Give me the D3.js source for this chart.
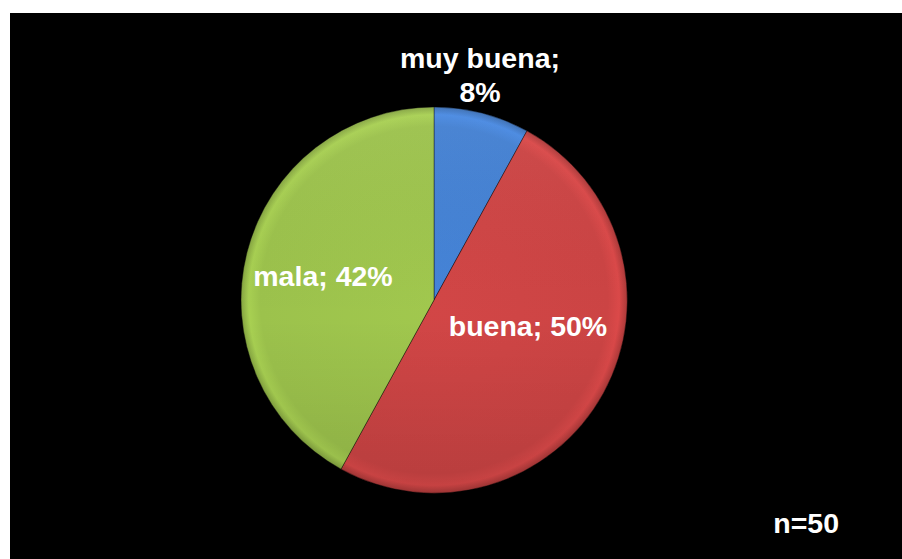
<!DOCTYPE html>
<html>
<head>
<meta charset="utf-8">
<script src="https://cdn.jsdelivr.net/npm/d3@7"></script>
<style>
  html, body { margin: 0; padding: 0; background: #ffffff; }
  svg { display: block; }
  text { font-family: "Liberation Sans", Arial, sans-serif; font-weight: bold; fill: #ffffff; }
</style>
</head>
<body>
<script>
// Opinion categories, in drawing order (clockwise from 12 o'clock)
const categories = ["muy buena", "buena", "mala"];
const percents = [8, 50, 42];
const colors = ["#4380d2", "#cc4444", "#9cc24c"];
const sampleLabel = "n=50";

const W = 902, H = 559;
const cx = 434, cy = 300, R = 193;

const svg = d3.select("body").append("svg")
  .attr("width", W).attr("height", H);

// black plot area
svg.append("rect").attr("x", 10).attr("y", 13)
  .attr("width", W - 10).attr("height", H - 13).attr("fill", "#000");

const defs = svg.append("defs");

// bevelled look for each slice: flat body, soft light rim, dark edge
colors.forEach((c, i) => {
  const base = d3.color(c);
  const gr = defs.append("radialGradient")
    .attr("id", "grad" + i)
    .attr("gradientUnits", "userSpaceOnUse")
    .attr("cx", 0).attr("cy", 0).attr("r", R);
  gr.append("stop").attr("offset", "0%").attr("stop-color", base.brighter(0.08));
  gr.append("stop").attr("offset", "90%").attr("stop-color", base);
  gr.append("stop").attr("offset", "96%").attr("stop-color", base.brighter(0.2));
  gr.append("stop").attr("offset", "100%").attr("stop-color", base.darker(0.45));
});

// soft top-light / bottom-shade overlay
const shade = defs.append("linearGradient").attr("id", "shade")
  .attr("x1", 0).attr("y1", 0).attr("x2", 0).attr("y2", 1);
shade.append("stop").attr("offset", "0%").attr("stop-color", "#fff").attr("stop-opacity", 0.05);
shade.append("stop").attr("offset", "55%").attr("stop-color", "#000").attr("stop-opacity", 0);
shade.append("stop").attr("offset", "100%").attr("stop-color", "#000").attr("stop-opacity", 0.1);

const pie = d3.pie().sort(null).value(d => d);
const arcs = pie(percents);
const arc = d3.arc().innerRadius(0).outerRadius(R);

const g = svg.append("g").attr("transform", `translate(${cx},${cy})`);

g.selectAll("path.slice")
  .data(arcs)
  .join("path")
  .attr("class", "slice")
  .attr("d", arc)
  .attr("fill", (d, i) => `url(#grad${i})`)
  .attr("stroke", "rgba(0,0,0,0.4)")
  .attr("stroke-width", 1);

g.append("circle").attr("r", R).attr("fill", "url(#shade)");

// slice labels
const fs = 28.5;
const labelPos = [
  { x: 480, y: 68, lines: [`${categories[0]};`, `${percents[0]}%`] },
  { x: 528, y: 336, lines: [`${categories[1]}; ${percents[1]}%`] },
  { x: 323, y: 286, lines: [`${categories[2]}; ${percents[2]}%`] }
];
labelPos.forEach(p => {
  const t = svg.append("text")
    .attr("x", p.x).attr("y", p.y)
    .attr("text-anchor", "middle")
    .attr("font-size", fs);
  p.lines.forEach((l, k) => {
    t.append("tspan").attr("x", p.x).attr("dy", k === 0 ? 0 : 34).text(l);
  });
});

svg.append("text")
  .attr("x", 839).attr("y", 533)
  .attr("text-anchor", "end")
  .attr("font-size", fs)
  .text(sampleLabel);
</script>
</body>
</html>
